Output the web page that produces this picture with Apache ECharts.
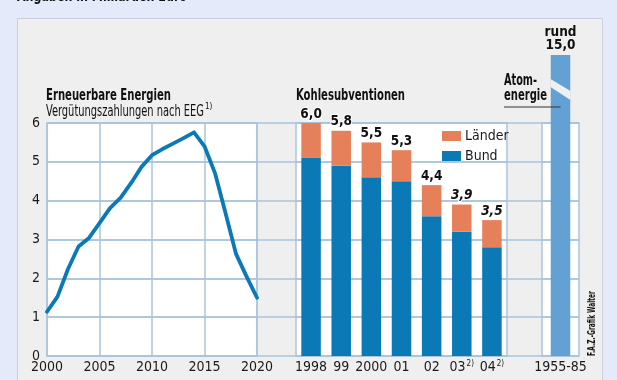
<!DOCTYPE html>
<html>
<head>
<meta charset="utf-8">
<script src="https://cdn.jsdelivr.net/npm/echarts@6/dist/echarts.min.js"></script>
<style>
  html, body { margin: 0; padding: 0; background: #e4eaf9; }
  #c { width: 617px; height: 380px; }
</style>
</head>
<body>
<div id="c"></div>
<script>
// ---- data ----
const eegYears = [2000,2001,2002,2003,2004,2005,2006,2007,2008,2009,2010,2011,2012,2013,2014,2015,2016,2017,2018,2019,2020];
const eegValues = [1.14,1.53,2.24,2.82,3.04,3.42,3.81,4.07,4.45,4.87,5.17,5.33,5.47,5.61,5.76,5.40,4.71,3.68,2.63,2.05,1.50];
const coalCategories = ['1998','99','2000','01','02','03','04'];
const coalFootnote = [false,false,false,false,false,true,true];
const coalBund = [5.1,4.9,4.6,4.5,3.6,3.2,2.8];
const coalLaender = [0.9,0.9,0.9,0.8,0.8,0.7,0.7];
const coalTotals = [6.0,5.8,5.5,5.3,4.4,3.9,3.5];
const coalEstimated = [false,false,false,false,false,true,true];
const atomCategories = ['1955-85'];
const atomValues = [15.0];
const yTicks = [0,1,2,3,4,5,6];

// ---- styles ----
const FONT = '"DejaVu Sans Condensed","Liberation Sans",sans-serif';
const GRID_C = '#a9c5de';
const BLUE = '#0a79b5';
const ORANGE = '#e6805a';
const ATOM = '#63a1d4';
const fmt = v => v.toFixed(1).replace('.', ',');

const mctx = document.createElement('canvas').getContext('2d');
function fitScale(text, font, target) {
  mctx.font = font;
  return target / mctx.measureText(text).width;
}
function fitText(text, font, x, y, target, extra) {
  const s = fitScale(text, font, target);
  return Object.assign({type: 'text', x: x, y: y, scaleX: s, scaleY: 1, silent: true,
    style: {text: text, font: font, fill: '#111', verticalAlign: 'top', textVerticalAlign: 'top'}}, extra || {});
}

const PLOT_TOP = 123, PLOT_H = 233;
const chart = echarts.init(document.getElementById('c'), null, {renderer: 'canvas'});

const yBase = (gi, showLabel) => ({
  type: 'value', gridIndex: gi, min: yTicks[0], max: yTicks[yTicks.length-1], interval: 1,
  axisLine: {show: false}, axisTick: {show: false},
  axisLabel: {show: showLabel, fontFamily: FONT, fontSize: 14, color: '#1a1a1a', margin: 7},
  splitLine: {show: true, lineStyle: {color: GRID_C, width: 1.5}}
});

const option = {
  backgroundColor: '#e4eaf9',
  animation: false,
  grid: [
    {left: 47, top: PLOT_TOP, width: 532, height: PLOT_H, show: false},
    {left: 47, top: PLOT_TOP, width: 210, height: PLOT_H, show: true, backgroundColor: '#ffffff', borderColor: GRID_C, borderWidth: 1.5},
    {left: 296, top: PLOT_TOP, width: 211, height: PLOT_H, show: true, backgroundColor: '#ffffff', borderColor: GRID_C, borderWidth: 1.5},
    {left: 542, top: PLOT_TOP, width: 37, height: PLOT_H, show: true, backgroundColor: '#ffffff', borderColor: GRID_C, borderWidth: 1.5},
    {left: 542, top: 55, width: 37, height: 301, show: false}
  ],
  xAxis: [
    {type: 'value', gridIndex: 0, min: 0, max: 1, show: false},
    {type: 'value', gridIndex: 1, min: 2000, max: 2020, interval: 5,
      axisLine: {show: false}, axisTick: {show: false},
      axisLabel: {fontFamily: FONT, fontSize: 14, color: '#1a1a1a', margin: 4, formatter: v => String(v)},
      splitLine: {show: true, lineStyle: {color: GRID_C, width: 1.5}}},
    {type: 'category', gridIndex: 2, data: coalCategories,
      axisLine: {show: false}, axisTick: {show: false},
      axisLabel: {fontFamily: FONT, fontSize: 14, color: '#1a1a1a', margin: 4, interval: 0,
        formatter: (v, i) => coalFootnote[i] ? v + '{sup|2)}' : v,
        rich: {sup: {fontFamily: FONT, fontSize: 8, verticalAlign: 'top', color: '#1a1a1a', padding: [0,0,6,1]}}},
      splitLine: {show: false}},
    {type: 'category', gridIndex: 3, data: atomCategories,
      axisLine: {show: false}, axisTick: {show: false},
      axisLabel: {fontFamily: FONT, fontSize: 14, color: '#1a1a1a', margin: 4},
      splitLine: {show: false}},
    {type: 'category', gridIndex: 4, data: atomCategories, show: false}
  ],
  yAxis: [
    yBase(0, true), yBase(1, false), yBase(2, false), yBase(3, false),
    {type: 'value', gridIndex: 4, min: 0, max: 15, show: false}
  ],
  legend: {
    orient: 'vertical', left: 442, top: 129, padding: 0, itemWidth: 19, itemHeight: 10, itemGap: 6,
    icon: 'rect', data: ['Länder', 'Bund'],
    textStyle: {fontFamily: FONT, fontSize: 14, color: '#1a1a1a', padding: [0,0,0,-1]},
    selectedMode: false
  },
  series: [
    {name: 'EEG', type: 'line', xAxisIndex: 1, yAxisIndex: 1,
      data: eegYears.map((y, i) => [y, eegValues[i]]),
      showSymbol: false, smooth: false,
      lineStyle: {color: BLUE, width: 3.8, join: 'round', cap: 'round'}, z: 5},
    {name: 'Bund', type: 'bar', xAxisIndex: 2, yAxisIndex: 2, stack: 'kohle',
      data: coalBund, barWidth: 19.5, itemStyle: {color: BLUE}},
    {name: 'Länder', type: 'bar', xAxisIndex: 2, yAxisIndex: 2, stack: 'kohle',
      data: coalLaender, barWidth: 19.5, itemStyle: {color: ORANGE},
      label: {show: true, position: 'top', distance: 2,
        formatter: p => coalEstimated[p.dataIndex] ? '{i|' + fmt(coalTotals[p.dataIndex]) + '}' : '{b|' + fmt(coalTotals[p.dataIndex]) + '}',
        rich: {
          b: {fontFamily: FONT, fontSize: 13.5, fontWeight: 'bold', color: '#111', textBorderColor: '#fff', textBorderWidth: 2},
          i: {fontFamily: FONT, fontSize: 13.5, fontWeight: 'bold', fontStyle: 'italic', color: '#111', textBorderColor: '#fff', textBorderWidth: 2}
        }}},
    {name: 'Atomenergie', type: 'bar', xAxisIndex: 4, yAxisIndex: 4,
      data: atomValues, barWidth: 19.5, itemStyle: {color: ATOM},
      label: {show: true, position: 'top', distance: 3,
        formatter: p => 'rund\n' + fmt(p.value),
        fontFamily: FONT, fontSize: 13.5, fontWeight: 'bold', color: '#111', lineHeight: 13, align: 'center'},
      z: 6}
  ]
};
chart.setOption(option);

// decorations: panel, headings, break slash
const cx = chart.convertToPixel({xAxisIndex: 4, yAxisIndex: 4}, [0, 0])[0];
const bx0 = cx - 10, bx1 = cx + 10;
const g = [
  {type: 'rect', left: 17, top: 18, shape: {width: 585, height: 380}, style: {fill: '#efefef', stroke: '#c9cfe0', lineWidth: 1}, z: -10, silent: true},
  fitText('Angaben in Milliarden Euro', 'bold 16px ' + FONT, 17, -11, 170),
  fitText('Erneuerbare Energien', 'bold 16px ' + FONT, 46, 88, 125),
  fitText('Vergütungszahlungen nach EEG', '15px ' + FONT, 46, 105, 158),
  {type: 'text', x: 205, y: 103, silent: true, style: {text: '1)', font: '8px ' + FONT, fill: '#111', verticalAlign: 'top', textVerticalAlign: 'top'}},
  fitText('Kohlesubventionen', 'bold 16px ' + FONT, 296, 88, 109),
  fitText('Atom-', 'bold 16px ' + FONT, 504, 73, 33),
  fitText('energie', 'bold 16px ' + FONT, 504, 88, 43),
  {type: 'line', shape: {x1: 504, y1: 107, x2: cx, y2: 107}, style: {stroke: '#333', lineWidth: 1}, silent: true, z: 30},
  {type: 'polygon', shape: {points: [[bx0, 79], [bx1, 91], [bx1, 100], [bx0, 87]]}, style: {fill: '#eef0f2'}, z: 20, silent: true},
  Object.assign(fitText('F.A.Z.-Grafik Walter', 'bold 10px ' + FONT, 587, 356, 65), {rotation: Math.PI / 2})
];
chart.setOption({graphic: g});
</script>
</body>
</html>
